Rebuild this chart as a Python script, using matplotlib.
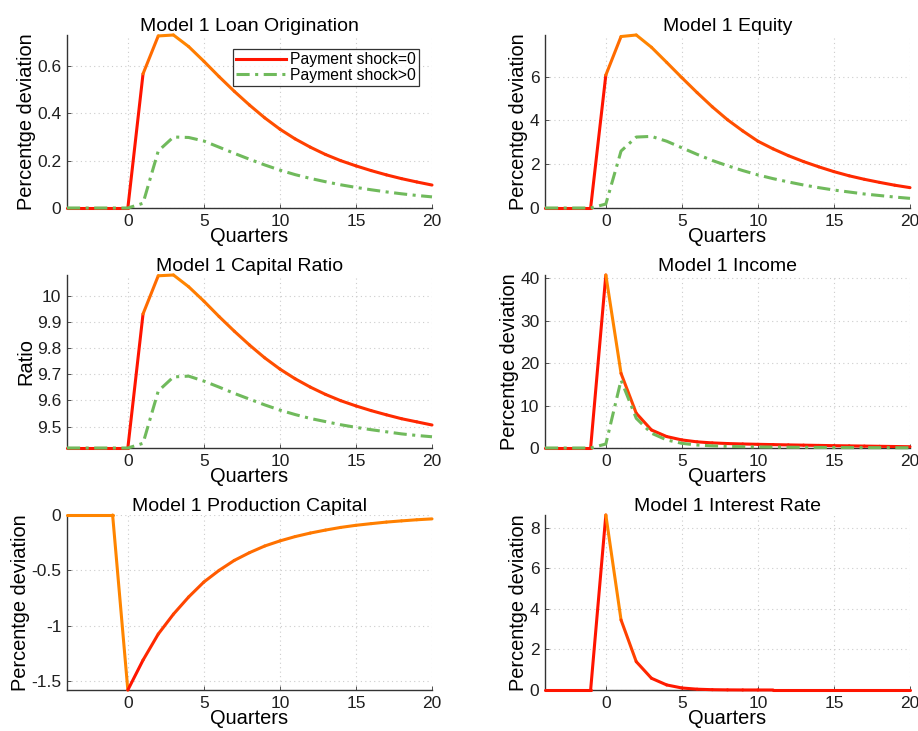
import numpy as np
import matplotlib
matplotlib.use("Agg")
import matplotlib.pyplot as plt
from matplotlib.collections import LineCollection
from matplotlib.lines import Line2D

plt.rcParams['font.family'] = ['Liberation Sans', 'DejaVu Sans']

# quarters -4 .. 20
quarters = list(range(-4, 21))

# Loan origination
loan_base = [0, 0, 0, 0, 0, 0.567, 0.727, 0.731, 0.682, 0.620, 0.555, 0.493, 0.435,
             0.381, 0.333, 0.292, 0.257, 0.226, 0.200, 0.178, 0.158, 0.140, 0.124,
             0.110, 0.097]
loan_pay = [0, 0, 0, 0, 0, 0.020, 0.241, 0.300, 0.298, 0.283, 0.257, 0.231, 0.206,
            0.182, 0.160, 0.141, 0.125, 0.111, 0.098, 0.087, 0.077, 0.068, 0.060,
            0.053, 0.047]

# Equity
equity_base = [0, 0, 0, 0, 6.07, 7.83, 7.90, 7.34, 6.65, 5.95, 5.27, 4.62, 4.03,
               3.52, 3.05, 2.70, 2.39, 2.12, 1.88, 1.66, 1.47, 1.31, 1.17, 1.04, 0.93]
equity_pay = [0, 0, 0, 0, 0.18, 2.60, 3.24, 3.27, 3.05, 2.75, 2.45, 2.17, 1.93,
              1.71, 1.51, 1.34, 1.19, 1.05, 0.93, 0.82, 0.73, 0.64, 0.57, 0.50, 0.44]

# Capital ratio
capratio_base = [9.418, 9.418, 9.418, 9.418, 9.418, 9.931, 10.077, 10.080, 10.035,
                 9.980, 9.921, 9.865, 9.812, 9.763, 9.720, 9.683, 9.651, 9.623,
                 9.599, 9.579, 9.561, 9.545, 9.530, 9.518, 9.506]
capratio_pay = [9.418, 9.418, 9.418, 9.418, 9.418, 9.436, 9.636, 9.690, 9.693,
                9.674, 9.651, 9.627, 9.605, 9.583, 9.563, 9.546, 9.531, 9.519,
                9.507, 9.497, 9.488, 9.480, 9.472, 9.466, 9.461]

# Income
income_base = [0, 0, 0, 0, 40.8, 17.6, 8.2, 4.25, 2.7, 1.9, 1.45, 1.2, 1.05, 0.95,
               0.87, 0.80, 0.73, 0.67, 0.61, 0.55, 0.50, 0.45, 0.40, 0.35, 0.30]
income_pay = [0, 0, 0, 0, 0.94, 16.0, 7.0, 3.5, 1.9, 1.1, 0.7, 0.5, 0.38, 0.30,
              0.25, 0.21, 0.18, 0.15, 0.13, 0.11, 0.09, 0.08, 0.07, 0.06, 0.05]

# Production capital
prodcap = [0, 0, 0, 0, -1.58, -1.31, -1.075, -0.895, -0.74, -0.605, -0.50, -0.41,
           -0.34, -0.28, -0.234, -0.195, -0.163, -0.136, -0.112, -0.093, -0.078,
           -0.064, -0.053, -0.043, -0.035]

# Interest rate
interest = [0, 0, 0, 0, 8.64, 3.46, 1.40, 0.58, 0.25, 0.10, 0.04, 0.015, 0.006,
            0.002, 0.001, 0, 0, 0, 0, 0, 0, 0, 0, 0, 0]

panels = [
    ("Model 1 Loan Origination", "Percentge deviation", loan_base, loan_pay),
    ("Model 1 Equity", "Percentge deviation", equity_base, equity_pay),
    ("Model 1 Capital Ratio", "Ratio", capratio_base, capratio_pay),
    ("Model 1 Income", "Percentge deviation", income_base, income_pay),
    ("Model 1 Production Capital", "Percentge deviation", prodcap, None),
    ("Model 1 Interest Rate", "Percentge deviation", interest, None),
]

RED = np.array([1.0, 0.08, 0.0])
ORANGE = np.array([1.0, 0.52, 0.0])
GREEN = (0.44, 0.73, 0.36)
AXC = (0.2, 0.2, 0.2)
DASHDOT = (0, (4.3, 1.8, 1.0, 1.8))

fig = plt.figure(figsize=(9.18, 7.31), dpi=100)

lefts = [67 / 918, 545 / 918]
width = 365 / 918
rows = [(208, 173), (448, 173), (690, 175)]

x = np.array(quarters, dtype=float)
for i, (title, ylab, base, pay) in enumerate(panels):
    r, c = divmod(i, 2)
    bottom_px, h_px = rows[r]
    ax = fig.add_axes([lefts[c], (731 - bottom_px) / 731, width, h_px / 731])

    y = np.array(base, dtype=float)
    lo, hi = y.min(), y.max()
    if pay is not None:
        lo = min(lo, min(pay))
        hi = max(hi, max(pay))

    # segment colours follow the starting value (red low -> orange high)
    pts = np.column_stack([x, y])
    segs = np.stack([pts[:-1], pts[1:]], axis=1)
    frac = (y[:-1] - y.min()) / (y.max() - y.min())
    cols = RED[None, :] + frac[:, None] * (ORANGE - RED)[None, :]
    lc = LineCollection(segs, colors=cols, linewidths=2.2, capstyle='round',
                        joinstyle='round', zorder=4)
    lc.set_clip_on(False)
    ax.add_collection(lc)

    if pay is not None:
        ax.plot(quarters, pay, color=GREEN, lw=2.2, linestyle=DASHDOT,
                zorder=5, clip_on=False)

    ax.set_xlim(-4, 20)
    ax.set_ylim(lo, hi)
    ax.set_xticks([0, 5, 10, 15, 20])
    ax.set_title(title, fontsize=14, color='black', pad=3)
    ax.set_xlabel("Quarters", fontsize=14.4, labelpad=-1)
    ax.set_ylabel(ylab, fontsize=14.4, labelpad=1)
    ax.grid(True, linestyle=(0, (1, 3)), color=(0.8, 0.8, 0.8), lw=0.8)
    ax.set_axisbelow(True)
    for s in ('top', 'right'):
        ax.spines[s].set_visible(False)
    for s in ('left', 'bottom'):
        ax.spines[s].set_color(AXC)
        ax.spines[s].set_linewidth(1.0)
    ax.tick_params(direction='in', length=3, width=0.6, colors=AXC, pad=4,
                   labelsize=12.5, labelcolor=(0.12, 0.12, 0.12))

    if i == 2:
        ax.set_yticks([9.5, 9.6, 9.7, 9.8, 9.9, 10])
        ax.set_yticklabels(['9.5', '9.6', '9.7', '9.8', '9.9', '10'])
    if i == 3:
        ax.set_yticks([0, 10, 20, 30, 40])
    if i == 4:
        ax.set_yticks([0, -0.5, -1, -1.5])
        ax.set_yticklabels(['0', '-0.5', '-1', '-1.5'])
    else:
        ax.yaxis.set_major_formatter(plt.FuncFormatter(lambda v, p: ('%g' % v)))

    if i == 0:
        handles = [Line2D([], [], color=RED, lw=2.2),
                   Line2D([], [], color=GREEN, lw=2.2, linestyle=DASHDOT)]
        leg = ax.legend(handles, ["Payment shock=0", "Payment shock>0"],
                        loc='upper right', bbox_to_anchor=(0.964, 0.919),
                        fontsize=11.3, frameon=True, fancybox=False,
                        handlelength=3.2, borderpad=0.2, labelspacing=0.05,
                        handletextpad=0.25, borderaxespad=0)
        leg.get_frame().set_edgecolor('black')
        leg.get_frame().set_linewidth(0.9)

fig.savefig("out.png", dpi=100)
